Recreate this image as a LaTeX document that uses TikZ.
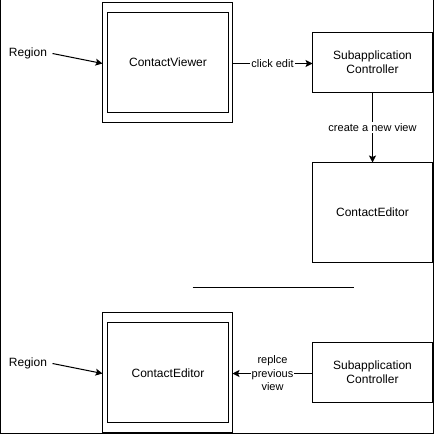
\documentclass[tikz,border=0pt]{standalone}
\usepackage{fontspec}
\setmainfont{Liberation Sans}
\usetikzlibrary{arrows.meta}
\begin{document}
\begin{tikzpicture}[x=1pt,y=-1pt,
  every node/.style={inner sep=0pt},
  frame/.style={draw,line width=1pt},
  txt/.style={font=\fontsize{12}{14}\selectfont,align=center},
  lbl/.style={fill=white,inner sep=1pt,align=center,font=\fontsize{11}{13.5}\selectfont},
  conn/.style={line width=1pt,-{Stealth[length=7pt,width=7pt,inset=1.5pt]}}
]
\useasboundingbox (0,0) rectangle (435,435);
% outer frame
\draw[line width=1pt] (0.5,0) -- (0.5,433.5) -- (433.5,433.5) -- (433.5,0);

\begin{scope}[shift={(0.5,0.5)}]
% top part
\draw[frame] (102,2) rectangle (232,122);
\draw[frame] (107,12) rectangle (228,112);
\node[txt] (cv) at (167.5,62) {ContactViewer};
\coordinate (cvw) at (102,63);
\coordinate (cve) at (232,63);
\node[txt] (r1) at (27.5,53) {Region};
\draw[frame] (312,32) rectangle (432,92);
\node[txt] (sc1) at (372,62) {Subapplication\\Controller};
\coordinate (sc1w) at (312,63);
\coordinate (sc1s) at (372,92);
\draw[frame] (312,162) rectangle (432,262);
\node[txt] (ce1) at (372,212) {ContactEditor};
\coordinate (ce1n) at (372,162);
\coordinate (r1s) at (52,53);
\draw[conn] (r1s) -- (cvw);
\draw[conn] (cve) -- node[lbl] {click edit} (sc1w);
\draw[conn] (sc1s) -- node[lbl,pos=0.5] {create a new view} (ce1n);

% separator
\coordinate (sepa) at (192,287);
\coordinate (sepb) at (353,287);
\draw[line width=1pt] (sepa) -- (sepb);

% bottom part
\draw[frame] (102,312) rectangle (232,432);
\draw[frame] (107,322) rectangle (228,422);
\node[txt] (ce2) at (167.5,373) {ContactEditor};
\coordinate (ce2w) at (102,373);
\coordinate (ce2e) at (232,373);
\node[txt] (r2) at (27.5,363) {Region};
\draw[frame] (312,342) rectangle (432,402);
\node[txt] (sc2) at (372,372) {Subapplication\\Controller};
\coordinate (sc2w) at (312,373);
\coordinate (r2s) at (52,363);
\draw[conn] (r2s) -- (ce2w);
\draw[conn] (sc2w) -- node[lbl] {replce\\previous\\view} (ce2e);
\end{scope}
\end{tikzpicture}
\end{document}
